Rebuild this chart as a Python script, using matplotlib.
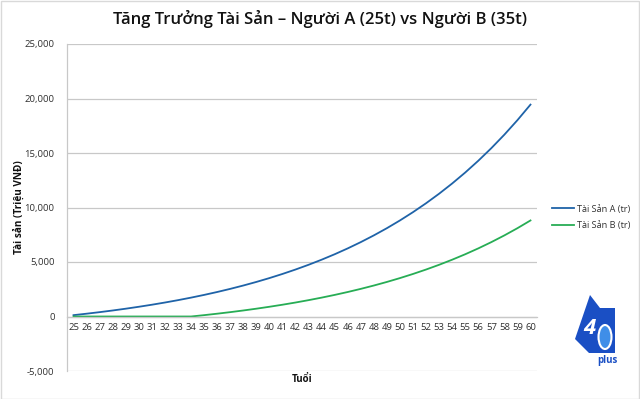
import matplotlib
matplotlib.use("Agg")
import matplotlib.pyplot as plt
from matplotlib.patches import Rectangle, Polygon, Ellipse

plt.rcParams['font.family'] = ['Open Sans', 'DejaVu Sans']

# data (triệu VNĐ)
ages = list(range(25, 61))
tai_san_a = [124, 257, 399, 552, 716, 892, 1080, 1282, 1499, 1731,
             1980, 2247, 2534, 2841, 3170, 3523, 3902, 4308, 4743, 5210,
             5710, 6247, 6823, 7440, 8101, 8811, 9572, 10388, 11263, 12201,
             13207, 14285, 15442, 16682, 18012, 19438]
tai_san_b = [0, 0, 0, 0, 0, 0, 0, 0, 0, 0,
             124, 257, 399, 552, 716, 892, 1080, 1282, 1499, 1731,
             1980, 2247, 2534, 2841, 3170, 3523, 3902, 4308, 4743, 5210,
             5710, 6247, 6823, 7440, 8101, 8811]
y_ticks = [-5000, 0, 5000, 10000, 15000, 20000, 25000]

blue = '#1f63a8'
green = '#27ad55'
grid_c = '#c8c8c8'
txt_c = '#303030'

fig = plt.figure(figsize=(6.4, 3.99), dpi=100)
ax = fig.add_axes([67/640, 1-371/399, 470/640, 327/399])

x = list(range(len(ages)))
ax.plot(x, tai_san_a, color=blue, lw=1.3, label='Tài Sản A (tr)')
ax.plot(x, tai_san_b, color=green, lw=1.3, label='Tài Sản B (tr)')

for s in ['top', 'right']:
    ax.spines[s].set_visible(False)
ax.spines['left'].set_color(grid_c)
ax.spines['left'].set_linewidth(0.9)
ax.spines['bottom'].set_position(('data', 0))
ax.spines['bottom'].set_color(grid_c)
ax.spines['bottom'].set_linewidth(0.9)

ax.set_xlim(-0.5, len(ages) - 0.5)
ax.set_ylim(-5000, 25000)
ax.set_yticks(y_ticks)
ax.set_yticklabels([f'{v:,}' for v in y_ticks])
ax.set_xticks(x)
ax.set_xticklabels([str(a) for a in ages])
ax.tick_params(axis='x', length=0, pad=5, labelsize=6.8, labelcolor=txt_c)
ax.tick_params(axis='y', length=0, pad=9, labelsize=6.8, labelcolor=txt_c)

ax.grid(axis='y', color=grid_c, lw=0.9)
ax.set_axisbelow(True)

ax.set_ylabel('Tài sản (Triệu VNĐ)', fontsize=7.2, fontweight='bold', color='#111111')
ax.yaxis.set_label_coords(-0.09, 0.5)
fig.text(302/640, 1-380/399, 'Tuổi', fontsize=7, fontweight='bold', color='#111111',
         ha='center', va='center')

fig.text(320/640, 1-19/399, 'Tăng Trưởng Tài Sản – Người A (25t) vs Người B (35t)',
         fontsize=12, fontweight='semibold', ha='center', va='center', color='#111111')

ax.legend(loc='center left', bbox_to_anchor=(1.015, 0.47), frameon=False,
          fontsize=6.6, handlelength=2.4, handletextpad=0.3, labelspacing=0.8,
          labelcolor=txt_c)

# logo "40 plus"
logo_blue = '#1a4fc4'
fig.patches.append(Polygon([[590/640, 1-295/399], [575/640, 1-339/399],
                            [589/640, 1-353/399], [615/640, 1-353/399],
                            [615/640, 1-308/399], [600/640, 1-308/399]],
                           closed=True, transform=fig.transFigure,
                           facecolor=logo_blue, edgecolor='none'))
fig.text(589/640, 1-328/399, '4', fontsize=16, fontweight='bold', color='white',
         ha='center', va='center', style='italic')
fig.patches.append(Ellipse((605/640, 1-337/399), 13/640, 24/399,
                           transform=fig.transFigure, facecolor='#3f8ee8',
                           edgecolor='white', lw=1.5))
fig.text(607/640, 1-360/399, 'plus', fontsize=7, fontweight='bold', color=logo_blue,
         ha='center', va='center')

fig.patches.append(Rectangle((0.001, 0.001), 0.997, 0.997, transform=fig.transFigure,
                             fill=False, edgecolor='#d9d9d9', lw=1))

fig.savefig('out.png', dpi=100)
